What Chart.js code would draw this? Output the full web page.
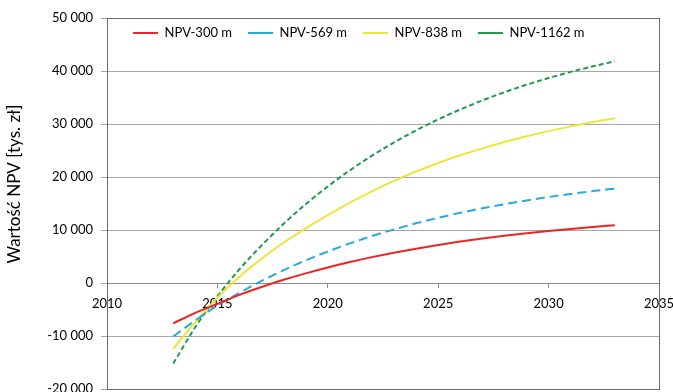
<!DOCTYPE html>
<html>
<head>
<meta charset="utf-8">
<script src="https://cdn.jsdelivr.net/npm/chart.js@4/dist/chart.umd.min.js"></script>
<style>
  html, body { margin: 0; padding: 0; background: #fff; }
  #wrap { width: 673px; height: 392px; }
</style>
</head>
<body>
<div id="wrap"><canvas id="npv"></canvas></div>
<script>
// years of the forecast
let years = [2013, 2014, 2015, 2016, 2017, 2018, 2019, 2020, 2021, 2022, 2023,
             2024, 2025, 2026, 2027, 2028, 2029, 2030, 2031, 2032, 2033];

// NPV [tys. zl] for each depth
let npv300  = [-7600, -5640, -3950, -2230, -750, 600, 1820, 2940, 3950, 4880, 5720,
               6480, 7170, 7810, 8380, 8910, 9390, 9820, 10210, 10570, 10900];
let npv569  = [-10100, -7050, -4250, -1840, 390, 2420, 4270, 5950, 7470, 8860, 10110,
               11260, 12300, 13240, 14100, 14870, 15580, 16220, 16810, 17340, 17820];
let npv838  = [-12450, -7350, -2750, 1200, 4600, 7600, 10300, 12800, 15150, 17300, 19260,
               21030, 22630, 24090, 25400, 26600, 27680, 28660, 29550, 30360, 31100];
let npv1162 = [-15200, -8300, -2500, 2600, 7100, 11180, 14870, 18220, 21260, 24020, 26530,
               28800, 30870, 32740, 34450, 36000, 37400, 38670, 39830, 40880, 41830];

let seriesNames = ['NPV-300 m', 'NPV-569 m', 'NPV-838 m', 'NPV-1162 m'];
let yTitle = 'Wartość NPV [tys. zł]';

let xMin = 2010, xMax = 2035, xStep = 5;
let yMin = -20000, yMax = 50000, yStep = 10000;

Chart.defaults.font.family = 'Lato';
Chart.defaults.color = '#000';

function pts(vals) {
    return years.map((t, i) => ({ x: t, y: vals[i] }));
}

// "50 000" style numbers
function spaced(v) {
    let s = String(Math.abs(v)).replace(/\B(?=(\d{3})+(?!\d))/g, ' ');
    return (v < 0 ? '-' : '') + s;
}

let line = (label, vals, color, dash) => ({
    label: label,
    data: pts(vals),
    borderColor: color,
    backgroundColor: color,
    borderWidth: 2,
    borderDash: dash,
    pointRadius: 0,
    cubicInterpolationMode: 'monotone',
    fill: false
});

// box around the plot area
let frame = {
    id: 'frame',
    beforeDatasetsDraw(chart) {
        let a = chart.chartArea, ctx = chart.ctx;
        ctx.save();
        ctx.strokeStyle = '#6b6b6b';
        ctx.lineWidth = 1;
        ctx.strokeRect(Math.round(a.left) + 0.5, Math.round(a.top) + 0.5,
                       Math.round(a.right - a.left), Math.round(a.bottom - a.top));
        ctx.restore();
    },
    afterDraw(chart) {
        // rotated axis title, a bit above the middle of the axis
        let ctx = chart.ctx;
        ctx.save();
        ctx.translate(15, 184);
        ctx.rotate(-Math.PI / 2);
        ctx.font = '17px Lato';
        ctx.fillStyle = '#000';
        ctx.textAlign = 'center';
        ctx.textBaseline = 'middle';
        ctx.fillText(yTitle, 0, 0);
        ctx.restore();
    }
};

// legend sits inside the plot, under the top border
let legendInside = {
    id: 'legendInside',
    afterLayout(chart) {
        let lg = chart.legend;
        let pad = lg.options.labels.padding;
        let x0 = (lg.left + pad + lg.right - lg.lineWidths[0]) / 2;
        let dx = 133 - x0;
        let dy = (33 - 6.5 - pad) - lg.top;
        lg.left += dx; lg.right += dx;
        lg.top += dy; lg.bottom += dy;
    }
};

new Chart(document.getElementById('npv'), {
    type: 'line',
    data: {
        datasets: [
            line(seriesNames[0], npv300, '#ee2424', []),
            line(seriesNames[1], npv569, '#27a9e1', [9, 5]),
            line(seriesNames[2], npv838, '#efe33c', []),
            line(seriesNames[3], npv1162, '#1f9c4a', [5, 3])
        ]
    },
    options: {
        responsive: true,
        maintainAspectRatio: false,
        animation: false,
        layout: {
            padding: { top: 18 - (13 + 16 + 10), left: 0, right: 14, bottom: 3 }
        },
        plugins: {
            tooltip: { enabled: false },
            legend: {
                position: 'top',
                labels: {
                    usePointStyle: true,
                    pointStyle: 'line',
                    pointStyleWidth: 25,
                    padding: 16,
                    font: { size: 13 }
                }
            }
        },
        scales: {
            x: {
                type: 'linear',
                position: { y: 0 },
                min: xMin,
                max: xMax,
                ticks: {
                    stepSize: xStep,
                    padding: 9,
                    maxRotation: 0,
                    font: { size: 13 },
                    callback: v => String(v)
                },
                grid: {
                    drawOnChartArea: false,
                    tickLength: 4,
                    color: '#8c8c8c'
                },
                border: { color: '#8c8c8c' },
                afterFit: s => { s.paddingLeft = 0; s.paddingRight = 0; }
            },
            y: {
                min: yMin,
                max: yMax,
                ticks: {
                    stepSize: yStep,
                    padding: 8,
                    font: { size: 13 },
                    callback: v => spaced(v)
                },
                grid: {
                    color: '#a6a6a6',
                    tickLength: 6
                },
                border: { color: '#6b6b6b' },
                afterFit: s => { s.width = 107; s.paddingTop = 0; s.paddingBottom = 0; }
            }
        }
    },
    plugins: [frame, legendInside]
});
</script>
</body>
</html>
